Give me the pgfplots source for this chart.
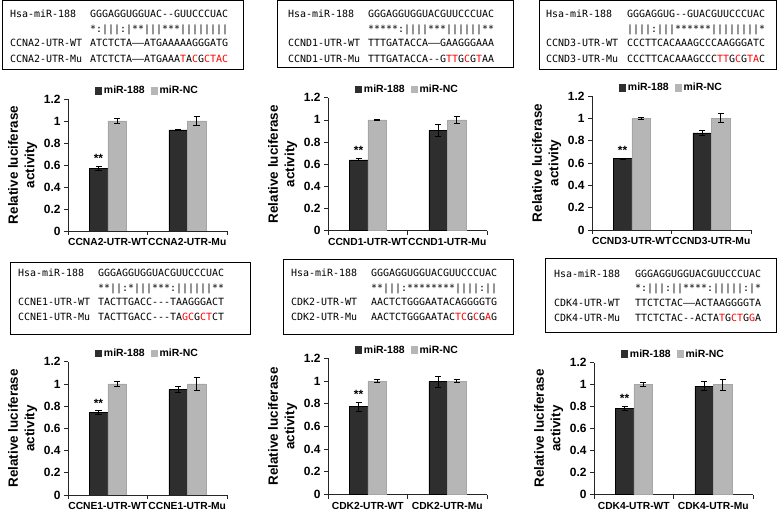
\documentclass[border=0pt]{standalone}
\usepackage{pgfplots}
\pgfplotsset{compat=1.18}
\usepackage{fontspec}
\setmainfont{Liberation Sans}
\newfontfamily\seqfont[Ligatures=TeXOff]{DejaVu Sans Mono}
\definecolor{darkbar}{HTML}{2E2E2E}
\definecolor{lightbar}{HTML}{B6B6B6}
\definecolor{mutred}{HTML}{FF0000}
\newcommand\R[1]{\textcolor{mutred}{#1}}
\tikzset{starnode/.style={font=\bfseries\fontsize{12}{13}\selectfont, anchor=base, inner sep=0pt}}
\pgfplotsset{
  lucstyle/.style={
    scale only axis, width=159bp,
    ybar=0pt, bar width=18.5bp,
    xmin=0, xmax=2, ymin=0, ymax=1.2,
    axis x line*=bottom, axis y line*=left,
    axis line style={black!85, line width=0.7bp},
    xtick={0,1,2}, x tick label as interval,
    ytick={0,0.2,0.4,0.6,0.8,1,1.2},
    tick align=outside, major tick length=4bp,
    tick style={black!85, line width=0.7bp},
    /pgf/number format/assume math mode=true,
    yticklabel style={font=\bfseries\fontsize{12}{13}\selectfont},
    xticklabel style={font=\bfseries\fontsize{10.3}{12}\selectfont, yshift=0bp},
    ylabel={Relative luciferase\\activity},
    ylabel style={align=center, font=\bfseries\fontsize{13.5}{16.5}\selectfont,
      at={(axis description cs:-0.285,0.5)}, anchor=center},
    legend columns=2,
    legend style={at={(0.5,1)}, anchor=south, yshift=2bp, draw=none, fill=none,
      font=\bfseries\fontsize{10.5}{12}\selectfont,
      /tikz/every even column/.append style={column sep=5bp},
      inner sep=0pt, nodes={inner sep=1.5bp}},
    legend image code/.code={\draw[#1,draw=none] (0bp,-3.8bp) rectangle (7bp,3.8bp);},
  },
  dk/.style={fill=darkbar, draw=black, line width=0.5bp,
    error bars/.cd, y dir=both, y explicit,
    error bar style={black, line width=0.8bp},
    error mark options={rotate=90, mark size=3bp, black, line width=0.8bp}},
  lt/.style={fill=lightbar, draw=black!35, line width=0.5bp,
    error bars/.cd, y dir=both, y explicit,
    error bar style={black, line width=0.8bp},
    error mark options={rotate=90, mark size=3bp, black, line width=0.8bp}},
}
\begin{document}
\begin{tikzpicture}
\path[use as bounding box] (0,0) rectangle (778bp,512bp);
\tikzset{seq/.style={anchor=base west, inner sep=0pt, font=\seqfont\fontsize{10}{12}\selectfont}}
% ---------- boxes top row ----------
\draw[line width=1bp] (2bp,442bp) rectangle (243bp,511bp);
\node[seq] at (10bp,494bp) {Hsa-miR-188};
\node[seq] at (90bp,494bp) {GGGAGGUGGUAC--GUUCCCUAC};
\node[seq] at (90bp,479.5bp) {*:|||:|**|||***||||||||};
\node[seq] at (10bp,465bp) {CCNA2-UTR-WT};
\node[seq] at (90bp,465bp) {ATCTCTA——ATGAAAAAGGGATG};
\node[seq] at (10bp,449.5bp) {CCNA2-UTR-Mu};
\node[seq] at (90bp,449.5bp) {ATCTCTA——ATGAAA\R{T}A\R{C}G\R{CTAC}};

\draw[line width=1bp] (277bp,444bp) rectangle (513bp,511bp);
\node[seq] at (288bp,494bp) {Hsa-miR-188};
\node[seq] at (368bp,494bp) {GGGAGGUGGUACGUUCCCUAC};
\node[seq] at (368bp,479.5bp) {*****:||||***||||||**};
\node[seq] at (288bp,465bp) {CCND1-UTR-WT};
\node[seq] at (368bp,465bp) {TTTGATACCA——GAAGGGAAA};
\node[seq] at (288bp,449.5bp) {CCND1-UTR-Mu};
\node[seq] at (368bp,449.5bp) {TTTGATACCA--G\R{TT}G\R{C}G\R{T}AA};

\draw[line width=1bp] (539bp,442bp) rectangle (776bp,511bp);
\node[seq] at (546bp,494bp) {Hsa-miR-188};
\node[seq] at (627bp,494bp) {GGGAGGUG--GUACGUUCCCUAC};
\node[seq] at (627bp,479.5bp) {||||:|||******||||||||*};
\node[seq] at (546bp,465bp) {CCND3-UTR-WT};
\node[seq] at (627bp,465bp) {CCCTTCACAAAGCCCAAGGGATC};
\node[seq] at (546bp,449.5bp) {CCND3-UTR-Mu};
\node[seq] at (627bp,449.5bp) {CCCTTCACAAAGCCC\R{TT}G\R{C}G\R{TA}C};
% ---------- boxes bottom row ----------
\draw[line width=1bp] (10bp,177bp) rectangle (250bp,249bp);
\node[seq] at (18bp,235bp) {Hsa-miR-188};
\node[seq] at (98bp,235bp) {GGGAGGUGGUACGUUCCCUAC};
\node[seq] at (98bp,220.5bp) {**||:*|||***:||||||**};
\node[seq] at (18bp,206bp) {CCNE1-UTR-WT};
\node[seq] at (98bp,206bp) {TACTTGACC---TAAGGGACT};
\node[seq] at (18bp,191bp) {CCNE1-UTR-Mu};
\node[seq] at (98bp,191bp) {TACTTGACC---TA\R{GC}G\R{CT}CT};

\draw[line width=1bp] (283bp,177bp) rectangle (513bp,252bp);
\node[seq] at (291bp,235bp) {Hsa-miR-188};
\node[seq] at (371bp,235bp) {GGGAGGUGGUACGUUCCCUAC};
\node[seq] at (371bp,220.5bp) {**|||:********||||:||};
\node[seq] at (291bp,206bp) {CDK2-UTR-WT};
\node[seq] at (371bp,206bp) {AACTCTGGGAATACAGGGGTG};
\node[seq] at (291bp,191bp) {CDK2-UTR-Mu};
\node[seq] at (371bp,191bp) {AACTCTGGGAATAC\R{TC}G\R{C}G\R{A}G};

\draw[line width=1bp] (545bp,179bp) rectangle (776bp,253bp);
\node[seq] at (554bp,234bp) {Hsa-miR-188};
\node[seq] at (635bp,234bp) {GGGAGGUGGUACGUUCCCUAC};
\node[seq] at (635bp,220bp) {*:|||:||****:|||||:|*};
\node[seq] at (554bp,205bp) {CDK4-UTR-WT};
\node[seq] at (635bp,205bp) {TTCTCTAC——ACTAAGGGGTA};
\node[seq] at (554bp,190bp) {CDK4-UTR-Mu};
\node[seq] at (635bp,190bp) {TTCTCTAC--ACTA\R{T}G\R{CT}G\R{G}A};

% ---------- charts ----------
\begin{axis}[lucstyle, at={(68bp,281bp)}, height=132bp, xticklabels={CCNA2-UTR-WT,CCNA2-UTR-Mu}]
\addplot[dk] coordinates {(0.5,0.57) +- (0,0.015) (1.5,0.92) +- (0,0.005)};
\addplot[lt] coordinates {(0.5,1.0) +- (0,0.025) (1.5,1.0) +- (0,0.04)};
\legend{miR-188,miR-NC}
\node[starnode] at ([xshift=-9.25bp]axis cs:0.5,0.62) {**};
\end{axis}

\begin{axis}[lucstyle, at={(328bp,281.3bp)}, height=133bp, xticklabels={CCND1-UTR-WT,CCND1-UTR-Mu}]
\addplot[dk] coordinates {(0.5,0.64) +- (0,0.01) (1.5,0.905) +- (0,0.05)};
\addplot[lt] coordinates {(0.5,1.0) +- (0,0.006) (1.5,1.0) +- (0,0.03)};
\legend{miR-188,miR-NC}
\node[starnode] at ([xshift=-9.25bp]axis cs:0.5,0.685) {**};
\end{axis}

\begin{axis}[lucstyle, at={(592bp,282bp)}, height=134bp, xticklabels={CCND3-UTR-WT,CCND3-UTR-Mu}]
\addplot[dk] coordinates {(0.5,0.64) +- (0,0.005) (1.5,0.87) +- (0,0.02)};
\addplot[lt] coordinates {(0.5,1.0) +- (0,0.01) (1.5,1.0) +- (0,0.04)};
\legend{miR-188,miR-NC}
\node[starnode] at ([xshift=-9.25bp]axis cs:0.5,0.68) {**};
\end{axis}

\begin{axis}[lucstyle, at={(68bp,17bp)}, height=133.3bp, xticklabels={CCNE1-UTR-WT,CCNE1-UTR-Mu}]
\addplot[dk] coordinates {(0.5,0.745) +- (0,0.015) (1.5,0.95) +- (0,0.03)};
\addplot[lt] coordinates {(0.5,1.0) +- (0,0.025) (1.5,1.0) +- (0,0.055)};
\legend{miR-188,miR-NC}
\node[starnode] at ([xshift=-9.25bp]axis cs:0.5,0.79) {**};
\end{axis}

\begin{axis}[lucstyle, at={(328bp,17.5bp)}, height=136bp, xticklabels={CDK2-UTR-WT,CDK2-UTR-Mu}]
\addplot[dk] coordinates {(0.5,0.775) +- (0,0.04) (1.5,0.995) +- (0,0.05)};
\addplot[lt] coordinates {(0.5,1.0) +- (0,0.015) (1.5,1.0) +- (0,0.015)};
\legend{miR-188,miR-NC}
\node[starnode] at ([xshift=-9.25bp]axis cs:0.5,0.85) {**};
\end{axis}

\begin{axis}[lucstyle, at={(594bp,17.5bp)}, height=132bp, xticklabels={CDK4-UTR-WT,CDK4-UTR-Mu}]
\addplot[dk] coordinates {(0.5,0.78) +- (0,0.02) (1.5,0.985) +- (0,0.04)};
\addplot[lt] coordinates {(0.5,1.0) +- (0,0.015) (1.5,1.0) +- (0,0.05)};
\legend{miR-188,miR-NC}
\node[starnode] at ([xshift=-9.25bp]axis cs:0.5,0.835) {**};
\end{axis}
\end{tikzpicture}
\end{document}
